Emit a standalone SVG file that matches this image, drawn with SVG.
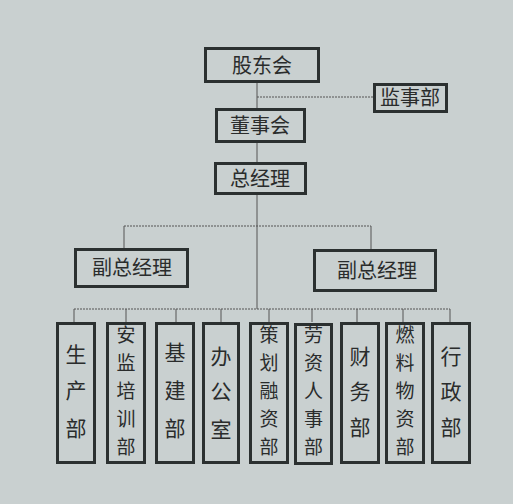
<svg xmlns="http://www.w3.org/2000/svg" width="513" height="504" viewBox="0 0 513 504">
<style>
.box{fill:#c9d0d0;stroke:#2b3030;stroke-width:3}
.t{font-family:"Noto Sans CJK SC","Noto Sans",sans-serif;fill:#2a2c2c;text-anchor:middle}
.h{font-size:20px}
.v{font-size:21px}
.w{font-size:19px}
.ln{stroke:#555;stroke-width:1;fill:none}
.dl{stroke:#555;stroke-width:1;fill:none;stroke-dasharray:2 1}
</style>
<rect width="513" height="504" fill="#c9d0d0"/>
<g id="connectors">
<line class="ln" x1="257" y1="83" x2="257" y2="108"/>
<line class="dl" x1="257" y1="97" x2="373" y2="97"/>
<line class="ln" x1="257" y1="143" x2="257" y2="162"/>
<line class="ln" x1="257" y1="195" x2="257" y2="309"/>
<line class="dl" x1="124" y1="226" x2="371" y2="226"/>
<line class="ln" x1="124" y1="226" x2="124" y2="248"/>
<line class="ln" x1="371" y1="226" x2="371" y2="249"/>
<line class="dl" x1="74" y1="309" x2="450" y2="309"/>
<line class="ln" x1="74" y1="309" x2="74" y2="322"/>
<line class="ln" x1="126" y1="309" x2="126" y2="322"/>
<line class="ln" x1="176" y1="309" x2="176" y2="322"/>
<line class="ln" x1="221" y1="309" x2="221" y2="322"/>
<line class="ln" x1="269" y1="309" x2="269" y2="322"/>
<line class="ln" x1="312" y1="309" x2="312" y2="322"/>
<line class="ln" x1="357" y1="309" x2="357" y2="322"/>
<line class="ln" x1="403" y1="309" x2="403" y2="322"/>
<line class="ln" x1="450" y1="309" x2="450" y2="322"/>
</g>
<g id="gudonghui"><rect class="box" x="205.5" y="48.5" width="113" height="33"/><text class="t h" x="262" y="73">股东会</text></g>
<g id="jianshibu"><rect class="box" x="374.5" y="84.5" width="72" height="27"/><text class="t h" x="410" y="105">监事部</text></g>
<g id="dongshihui"><rect class="box" x="216.5" y="109.5" width="88" height="32"/><text class="t h" x="260" y="133">董事会</text></g>
<g id="zongjingli"><rect class="box" x="215.5" y="163.5" width="90" height="30"/><text class="t h" x="260" y="186">总经理</text></g>
<g id="fuzong1"><rect class="box" x="75.5" y="249.5" width="112" height="37"/><text class="t h" x="132" y="275">副总经理</text></g>
<g id="fuzong2"><rect class="box" x="314.5" y="250.5" width="121" height="40"/><text class="t h" x="377" y="278">副总经理</text></g>
<g id="shengchanbu"><rect class="box" x="57.5" y="323.5" width="37" height="139"/>
<text class="t v" x="76" y="362">生</text><text class="t v" x="76" y="398">产</text><text class="t v" x="76" y="436">部</text></g>
<g id="anjianbu"><rect class="box" x="107.5" y="323.5" width="37" height="139"/>
<text class="t w" x="126" y="342">安</text><text class="t w" x="126" y="370">监</text><text class="t w" x="126" y="398">培</text><text class="t w" x="126" y="426">训</text><text class="t w" x="126" y="454">部</text></g>
<g id="jijianbu"><rect class="box" x="156.5" y="323.5" width="37" height="139"/>
<text class="t v" x="175" y="360">基</text><text class="t v" x="175" y="398">建</text><text class="t v" x="175" y="436">部</text></g>
<g id="bangongshi"><rect class="box" x="203.5" y="323.5" width="35" height="139"/>
<text class="t v" x="221" y="364">办</text><text class="t v" x="221" y="399">公</text><text class="t v" x="221" y="437">室</text></g>
<g id="cehuabu"><rect class="box" x="250.5" y="323.5" width="37" height="139"/>
<text class="t w" x="269" y="342">策</text><text class="t w" x="269" y="370">划</text><text class="t w" x="269" y="398">融</text><text class="t w" x="269" y="426">资</text><text class="t w" x="269" y="454">部</text></g>
<g id="laozibu"><rect class="box" x="295.5" y="324.5" width="36" height="139"/>
<text class="t w" x="313.5" y="342">劳</text><text class="t w" x="313.5" y="370">资</text><text class="t w" x="313.5" y="398">人</text><text class="t w" x="313.5" y="426">事</text><text class="t w" x="313.5" y="454">部</text></g>
<g id="caiwubu"><rect class="box" x="341.5" y="323.5" width="37" height="139"/>
<text class="t v" x="360" y="364">财</text><text class="t v" x="360" y="399">务</text><text class="t v" x="360" y="435">部</text></g>
<g id="ranliaobu"><rect class="box" x="386.5" y="323.5" width="37" height="139"/>
<text class="t w" x="405" y="342">燃</text><text class="t w" x="405" y="370">料</text><text class="t w" x="405" y="398">物</text><text class="t w" x="405" y="426">资</text><text class="t w" x="405" y="454">部</text></g>
<g id="xingzhengbu"><rect class="box" x="432.5" y="323.5" width="37" height="139"/>
<text class="t v" x="451" y="364">行</text><text class="t v" x="451" y="399">政</text><text class="t v" x="451" y="435">部</text></g>
</svg>
